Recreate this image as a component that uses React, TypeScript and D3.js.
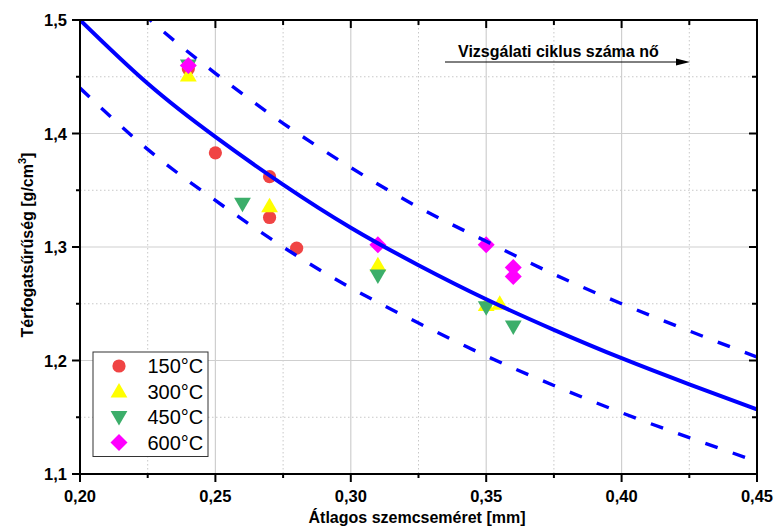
import React from "react";
import * as d3 from "d3";

const xTicks = [0.2, 0.25, 0.3, 0.35, 0.4, 0.45];
const xTickLabels = ["0,20", "0,25", "0,30", "0,35", "0,40", "0,45"];
const xMinor = [0.225, 0.275, 0.325, 0.375, 0.425];
const yTicks = [1.1, 1.2, 1.3, 1.4, 1.5];
const yTickLabels = ["1,1", "1,2", "1,3", "1,4", "1,5"];
const yMinor = [1.15, 1.25, 1.35, 1.45];

const seriesNames = ["150°C", "300°C", "450°C", "600°C"];
const s150x = [0.24, 0.25, 0.27, 0.27, 0.28];
const s150y = [1.457, 1.383, 1.362, 1.326, 1.299];
const s300x = [0.24, 0.27, 0.31, 0.35, 0.355];
const s300y = [1.451, 1.336, 1.284, 1.249, 1.25];
const s450x = [0.24, 0.26, 0.31, 0.35, 0.36];
const s450y = [1.46, 1.338, 1.275, 1.247, 1.23];
const s600x = [0.24, 0.31, 0.35, 0.36, 0.36];
const s600y = [1.46, 1.302, 1.302, 1.282, 1.274];

const curveX = [0.2, 0.225, 0.25, 0.275, 0.3, 0.325, 0.35, 0.375, 0.4, 0.425, 0.45];
const fitY = [1.5, 1.444, 1.397, 1.355, 1.317, 1.284, 1.254, 1.227, 1.202, 1.179, 1.157];
const upperY = [1.56, 1.502, 1.453, 1.409, 1.37, 1.335, 1.305, 1.276, 1.25, 1.226, 1.203];
const lowerY = [1.44, 1.386, 1.341, 1.3, 1.264, 1.233, 1.204, 1.178, 1.154, 1.132, 1.111];

const W = 774;
const H = 529;
const left = 80;
const right = 757;
const top = 20;
const bottom = 474;

const FONT = "'Liberation Sans', Arial, sans-serif";

export default function App() {
  const x = d3.scaleLinear().domain([0.2, 0.45]).range([left, right]);
  const y = d3.scaleLinear().domain([1.1, 1.5]).range([bottom, top]);

  const mk = (vals: number[]) =>
    d3
      .line<number>()
      .x((_, i) => x(curveX[i]))
      .y((v) => y(v))
      .curve(d3.curveNatural)(vals) || "";

  const fitPath = mk(fitY);
  const upperPath = mk(upperY);
  const lowerPath = mk(lowerY);

  const circle = (cx: number, cy: number, key: string) => (
    <circle key={key} cx={cx} cy={cy} r={6.6} fill="#f04444" />
  );
  const triUp = (cx: number, cy: number, key: string) => (
    <path key={key} d={`M${cx},${cy - 8.5}L${cx + 8.4},${cy + 6}L${cx - 8.4},${cy + 6}Z`} fill="#ffff00" />
  );
  const triDown = (cx: number, cy: number, key: string) => (
    <path key={key} d={`M${cx},${cy + 8.5}L${cx + 8.4},${cy - 6}L${cx - 8.4},${cy - 6}Z`} fill="#3cae6a" />
  );
  const diamond = (cx: number, cy: number, key: string) => (
    <path key={key} d={`M${cx},${cy - 8.5}L${cx + 8.5},${cy}L${cx},${cy + 8.5}L${cx - 8.5},${cy}Z`} fill="#ff00ff" />
  );
  const markers = [circle, triUp, triDown, diamond];

  return (
    <svg width={W} height={H} style={{ position: "absolute", left: 0, top: 0 }} fontFamily={FONT}>
      <defs>
        <clipPath id="plotClip">
          <rect x={left} y={top} width={right - left} height={bottom - top} />
        </clipPath>
      </defs>
      <rect x={0} y={0} width={W} height={H} fill="#fff" />
      {/* minor grid */}
      {xMinor.map((v) => (
        <line key={"xm" + v} x1={x(v)} x2={x(v)} y1={top} y2={bottom} stroke="#c8c8c8" strokeWidth={1} strokeDasharray="1.5,2.5" />
      ))}
      {yMinor.map((v) => (
        <line key={"ym" + v} x1={left} x2={right} y1={y(v)} y2={y(v)} stroke="#c8c8c8" strokeWidth={1} strokeDasharray="1.5,2.5" />
      ))}
      {/* major grid */}
      {xTicks.map((v) => (
        <line key={"xg" + v} x1={x(v)} x2={x(v)} y1={top} y2={bottom} stroke="#cfcfcf" strokeWidth={1.2} />
      ))}
      {yTicks.map((v) => (
        <line key={"yg" + v} x1={left} x2={right} y1={y(v)} y2={y(v)} stroke="#cfcfcf" strokeWidth={1.2} />
      ))}

      {/* points */}
      <g>
        {s150x.map((v, i) => circle(x(v), y(s150y[i]), "a" + i))}
        {s300x.map((v, i) => triUp(x(v), y(s300y[i]), "b" + i))}
        {s450x.map((v, i) => triDown(x(v), y(s450y[i]), "c" + i))}
        {s600x.map((v, i) => diamond(x(v), y(s600y[i]), "d" + i))}
      </g>

      {/* curves */}
      <g clipPath="url(#plotClip)">
        <path d={upperPath} fill="none" stroke="#0000ff" strokeWidth={3.4} strokeDasharray="13,16" />
        <path d={lowerPath} fill="none" stroke="#0000ff" strokeWidth={3.4} strokeDasharray="13,16" />
        <path d={fitPath} fill="none" stroke="#0000ff" strokeWidth={4} />
      </g>

      {/* axes frame */}
      <rect x={left} y={top} width={right - left} height={bottom - top} fill="none" stroke="#000" strokeWidth={2} />
      {xTicks.map((v) => (
        <g key={"xt" + v}>
          <line x1={x(v)} x2={x(v)} y1={bottom} y2={bottom + 8} stroke="#000" strokeWidth={2} />
          <line x1={x(v)} x2={x(v)} y1={top} y2={top + 8} stroke="#000" strokeWidth={2} />
        </g>
      ))}
      {xMinor.map((v) => (
        <g key={"xmt" + v}>
          <line x1={x(v)} x2={x(v)} y1={bottom} y2={bottom + 4} stroke="#000" strokeWidth={2} />
          <line x1={x(v)} x2={x(v)} y1={top} y2={top + 5} stroke="#000" strokeWidth={2} />
        </g>
      ))}
      {yTicks.map((v) => (
        <g key={"yt" + v}>
          <line x1={left - 8} x2={left} y1={y(v)} y2={y(v)} stroke="#000" strokeWidth={2} />
          <line x1={right - 8} x2={right} y1={y(v)} y2={y(v)} stroke="#000" strokeWidth={2} />
        </g>
      ))}
      {yMinor.map((v) => (
        <g key={"ymt" + v}>
          <line x1={left - 4} x2={left} y1={y(v)} y2={y(v)} stroke="#000" strokeWidth={2} />
          <line x1={right - 5} x2={right} y1={y(v)} y2={y(v)} stroke="#000" strokeWidth={2} />
        </g>
      ))}

      {/* tick labels */}
      {xTicks.map((v, i) => (
        <text key={"xl" + v} x={x(v)} y={502} textAnchor="middle" fontSize={16.5} fontWeight="bold" fill="#000">
          {xTickLabels[i]}
        </text>
      ))}
      {yTicks.map((v, i) => (
        <text key={"yl" + v} x={67} y={y(v) + 6} textAnchor="end" fontSize={16.5} fontWeight="bold" fill="#000">
          {yTickLabels[i]}
        </text>
      ))}

      {/* axis titles */}
      <text x={417} y={523} textAnchor="middle" fontSize={16} fontWeight="bold" fill="#000">
        Átlagos szemcseméret [mm]
      </text>
      <text transform={`translate(33,245) rotate(-90)`} textAnchor="middle" fontSize={16} fontWeight="bold" fill="#000">
        Térfogatsűrűség [g/cm<tspan dy={-7} fontSize={11}>3</tspan><tspan dy={7}>]</tspan>
      </text>

      {/* annotation */}
      <text x={458} y={57} fontSize={16} fontWeight="bold" fill="#000">
        Vizsgálati ciklus száma nő
      </text>
      <line x1={445} x2={680} y1={62} y2={62} stroke="#000" strokeWidth={1} />
      <path d="M690,62L676,58.5L676,65.5Z" fill="#000" />

      {/* legend */}
      <rect x={93} y={352} width={115} height={104.5} fill="#fff" stroke="#333" strokeWidth={1} />
      {seriesNames.map((name, i) => {
        const cy = 366 + i * 25.5;
        return (
          <g key={name}>
            {markers[i](119, cy, "lg" + i)}
            <text x={147.5} y={cy + 7} fontSize={20} fill="#000">
              {name}
            </text>
          </g>
        );
      })}
    </svg>
  );
}
